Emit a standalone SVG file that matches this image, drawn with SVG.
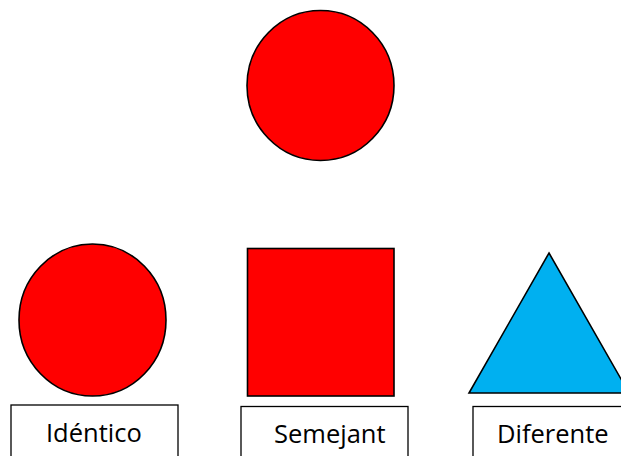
<svg xmlns="http://www.w3.org/2000/svg" width="621" height="456" viewBox="0 0 621 456">
<style>
.shape{stroke:#000;stroke-width:1.6}
.red{fill:#FF0000}
.blue{fill:#00B0F0}
.box{fill:#fff;stroke:#000;stroke-width:1.3}
.lbl{font-family:"Open Sans","Noto Sans",sans-serif;font-size:25.5px;fill:#000}
</style>
<rect width="621" height="456" fill="#fff"/>
<g id="top-circle"><ellipse class="shape red" cx="320.5" cy="85.5" rx="73.5" ry="75"/></g>
<g id="identico">
<ellipse class="shape red" cx="92.5" cy="320" rx="73.5" ry="76"/>
<rect class="box" x="11" y="405" width="167" height="60"/>
<text class="lbl" x="46" y="442">Idéntico</text>
</g>
<g id="semejant">
<rect class="shape red" x="247.5" y="248.5" width="146.5" height="147.5"/>
<rect class="box" x="241" y="406.5" width="167" height="60"/>
<text class="lbl" x="274" y="443">Semejant</text>
</g>
<g id="diferente">
<polygon class="shape blue" points="549,253 629,393 469,393"/>
<rect class="box" x="473" y="406.5" width="167" height="60"/>
<text class="lbl" x="497" y="443">Diferente</text>
</g>
<g id="connectors"/>
</svg>
